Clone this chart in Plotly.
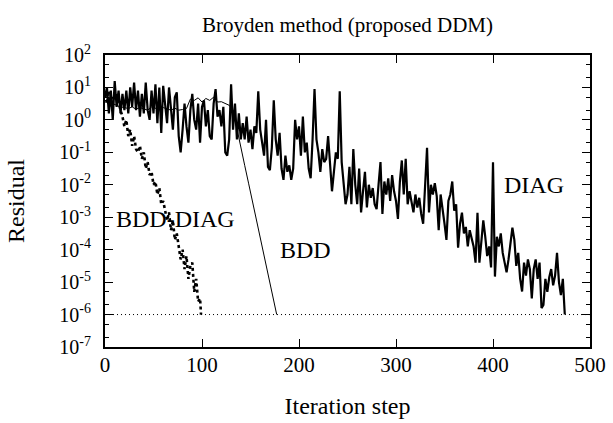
import plotly.graph_objects as go
import numpy as np

# ---------------- data (residual values read as log10 exponents) ----------------
diag_step = list(range(0, 476, 2))
diag_log10 = [
    0.7, 1.0, 0.2, 0.9, 0.0, 1.2, 0.4, 0.9, 0.2, 0.8,
    0.3, 0.9, 0.2, 1.0, 0.4, 1.15, 0.3, 0.9, 0.1, 0.8,
    0.2, 1.15, 0.3, 0.0, 0.9, 0.2, 1.1, -0.1, 1.0, -0.4,
    1.05, 0.4, -0.1, 1.0, 0.2, -0.3, 0.7, 0.85, -0.5, -1.0,
    -0.3, 0.5, -0.2, -0.7, 0.3, 0.8, 0.0, -0.3, 0.5, -0.7,
    0.4, 0.6, -0.2, 0.3, -0.5, -0.6, 0.5, 0.95, 0.1, 0.3,
    -0.2, 0.4, -1.0, -1.1, -0.6, 1.1, -0.3, 0.5, -0.6, 0.2,
    -0.6, -0.1, -0.6, 0.1, -0.7, -0.3, -0.9, -0.2, -0.4, 0.88,
    -0.3, -0.7, -1.1, 0.0, -1.45, -1.55, -0.85, 0.6, -0.6, -1.1,
    -0.4, -1.5, -1.85, -1.1, -1.6, -1.4, -1.85, -1.5, 0.0, -0.6,
    -0.2, -1.1, 0.1, -1.0, -0.7, -1.5, -1.8, -0.6, 0.95, -0.6,
    -1.0, -1.6, -0.9, -1.3, -1.2, -0.5, -1.3, -2.2, -1.6, -1.0,
    -1.2, 0.88, -1.3, -2.1, -2.6, -2.3, -1.45, -2.6, -0.9, -2.0,
    -2.6, -1.5, -2.85, -2.2, -1.6, -2.7, -2.0, -2.4, -2.1, -2.6,
    -2.75, -2.0, -1.3, -2.9, -1.9, -2.3, -1.8, -2.5, -1.7, -2.2,
    -2.5, -3.05, -1.9, -1.25, -2.3, -1.2, -2.6, -2.2, -2.5, -2.85,
    -2.3, -2.7, -2.4, -2.9, -3.2, -1.8, -0.86, -2.85, -2.0, -2.3,
    -1.95, -2.35, -3.4, -2.3, -2.7, -3.2, -3.7, -2.5, -2.3, -1.9,
    -2.8, -2.6, -3.94, -3.2, -2.86, -3.5, -3.3, -3.9, -3.4, -3.7,
    -3.9, -4.4, -2.86, -4.4, -3.8, -3.1, -3.6, -4.2, -3.9, -4.55,
    -1.31, -4.83, -3.6, -3.9, -3.5, -4.1, -4.4, -4.7, -4.3, -3.8,
    -3.32, -3.7, -4.5, -4.1, -4.9, -5.29, -4.4, -4.8, -4.3, -4.6,
    -5.5, -4.6, -4.3, -4.9, -4.4, -5.8, -5.7, -4.9, -5.3, -4.85,
    -4.6, -5.1, -4.8, -4.1, -5.0, -5.4, -4.9, -6.0,
]

bdd_step = [0, 4, 8, 12, 16, 20, 24, 28, 32, 36, 40, 44, 48, 52, 56, 60, 64, 68,
            72, 76, 80, 84, 88, 92, 96, 100, 104, 108, 112, 116, 120, 124, 128,
            132, 136, 140, 144, 148, 152, 156, 160, 164, 168, 172, 177]
bdd_log10 = [0.9, 0.6, 0.5, 0.45, 0.4, 0.38, 0.35, 0.4, 0.33, 0.38, 0.35, 0.3,
             0.4, 0.35, 0.32, 0.38, 0.33, 0.3, 0.36, 0.3, 0.32, 0.35, 0.64, 0.6,
             0.68, 0.55, 0.66, 0.6, 0.7, 0.55, 0.56, 0.5, 0.45,
             0.3, -0.3, -0.85, -1.4, -1.95, -2.5, -3.05, -3.6, -4.15, -4.75,
             -5.3, -6.0]

bdddiag_step = list(range(0, 100, 2)) + [99]
bdddiag_log10 = [0.8, 0.5, 0.9, 0.4, 0.7, 0.6, 0.8, 0.5, 0.3, 0.1,
                 -0.2, 0.0, -0.5, -0.3, -0.8, -0.5, -0.9, -1.0, -0.8, -1.2,
                 -1.0, -1.5, -1.3, -1.7, -1.6, -2.0, -1.9, -2.3, -2.1, -2.6,
                 -2.5, -2.8, -3.1, -2.85, -3.4, -3.1, -3.7, -3.5, -3.9, -4.3,
                 -4.0, -4.6, -4.2, -4.9, -4.5, -4.4, -5.3, -4.9, -5.6, -5.5,
                 -6.0]

tol_step = [0, 500]
tol_value = [1e-6, 1e-6]

labels = ["BDD-DIAG", "BDD", "DIAG"]
label_x = [73, 207, 442]
label_log10 = [-3.06, -4.02, -2.0]

ytick_exp = [2, 1, 0, -1, -2, -3, -4, -5, -6, -7]
xtick_vals = [0, 100, 200, 300, 400, 500]

FONT = "Liberation Serif, Times New Roman, serif"

fig = go.Figure()
fig.add_trace(go.Scatter(x=tol_step, y=tol_value, mode="lines",
                         line=dict(color="black", width=1, dash="1px,3px"),
                         hoverinfo="skip"))
fig.add_trace(go.Scatter(x=diag_step, y=10 ** np.array(diag_log10), mode="lines",
                         line=dict(color="black", width=2.2), name="DIAG"))
fig.add_trace(go.Scatter(x=bdd_step, y=10 ** np.array(bdd_log10), mode="lines",
                         line=dict(color="black", width=1), name="BDD"))
fig.add_trace(go.Scatter(x=bdddiag_step, y=10 ** np.array(bdddiag_log10), mode="lines",
                         line=dict(color="black", width=2.6, dash="3px,3px"),
                         name="BDD-DIAG"))

for t, xv, yv in zip(labels, label_x, label_log10):
    fig.add_annotation(x=xv, y=yv, text=t, showarrow=False,
                       font=dict(family=FONT, size=24, color="black"),
                       xanchor="center", yanchor="middle")

fig.update_layout(
    template="none",
    width=613, height=423,
    margin=dict(l=105, r=23, t=55, b=76, autoexpand=False),
    paper_bgcolor="white", plot_bgcolor="white",
    showlegend=False,
    font=dict(family=FONT, size=20, color="black"),
    title=dict(text="Broyden method (proposed DDM)", x=0.5, xref="paper",
               y=1 - 25 / 423, yref="container", yanchor="middle",
               font=dict(family=FONT, size=21, color="black")),
)
fig.update_xaxes(
    range=[0, 500], tickvals=xtick_vals, ticks="inside", ticklen=8,
    tickwidth=1, tickcolor="black", showgrid=False, zeroline=False,
    showline=True, linecolor="black", linewidth=2, mirror="ticks",
    automargin=False,
    tickfont=dict(family=FONT, size=21), ticklabelstandoff=-2,
    title=dict(text="Iteration step", font=dict(family=FONT, size=24), standoff=21),
)
fig.update_yaxes(
    type="log", range=[-7, 2],
    tickvals=[10 ** e for e in ytick_exp],
    ticktext=["10<sup>%d</sup>" % e for e in ytick_exp],
    ticks="inside", ticklen=8, tickwidth=1, tickcolor="black",
    minor=dict(ticks="inside", ticklen=4, dtick="D2", tickcolor="black", showgrid=False),
    showgrid=False, zeroline=False,
    showline=True, linecolor="black", linewidth=2, mirror="ticks",
    automargin=False,
    tickfont=dict(family=FONT, size=20), ticklabelstandoff=8,
    title=dict(text="Residual", font=dict(family=FONT, size=24), standoff=28),
)

fig.write_html("out.html",
               config={"displayModeBar": False},
               post_script="document.body.style.margin='0px';"
                           "document.body.style.overflow='hidden';")
